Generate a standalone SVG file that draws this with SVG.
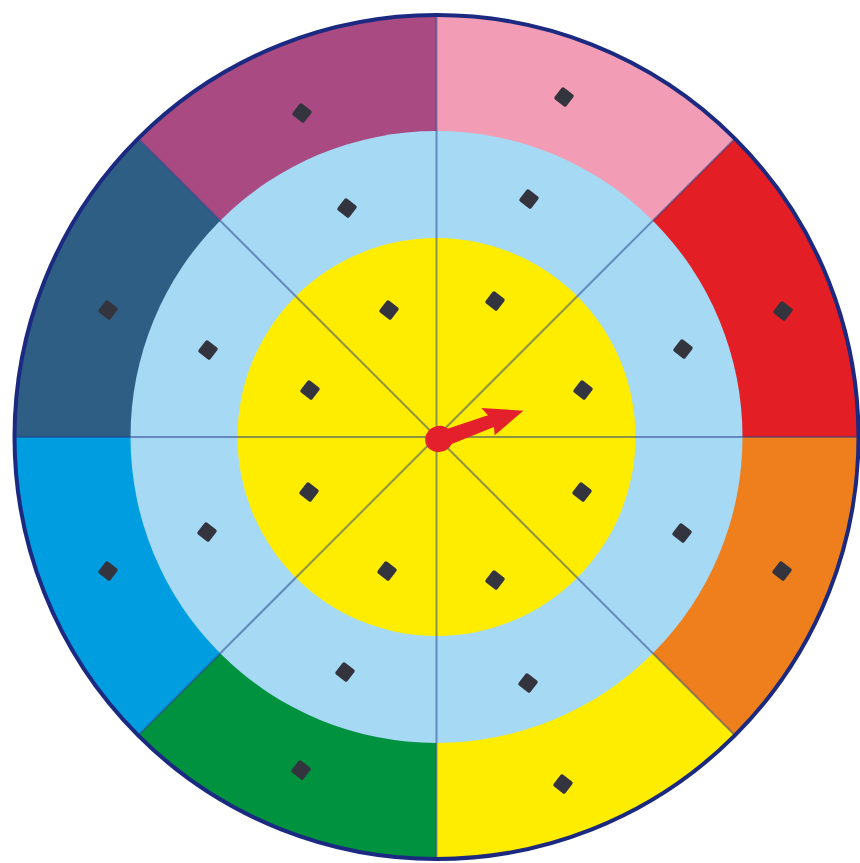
<svg xmlns="http://www.w3.org/2000/svg" xmlns:xlink="http://www.w3.org/1999/xlink" width="860" height="863" viewBox="0 0 860 863">
  <defs>
    <style>
      .div { stroke: #1f3c88; stroke-opacity: 0.5; stroke-width: 2; fill: none; }
      .mk { fill: #33343e; }
    </style>
    <rect id="m" class="mk" x="-7.5" y="-7.5" width="15" height="15" rx="2" transform="rotate(38)"/>
  </defs>
  <rect width="860" height="863" fill="#ffffff"/>
  <g id="outer-ring">
    <path d="M436.5 437 L436.5 14 A423 423 0 0 1 735.6 137.9 Z" fill="#f29db5"/>
    <path d="M436.5 437 L735.6 137.9 A423 423 0 0 1 859.5 437 Z" fill="#e31e25"/>
    <path d="M436.5 437 L859.5 437 A423 423 0 0 1 735.6 736.1 Z" fill="#ee7f1c"/>
    <path d="M436.5 437 L735.6 736.1 A423 423 0 0 1 436.5 860 Z" fill="#ffed00"/>
    <path d="M436.5 437 L436.5 860 A423 423 0 0 1 137.4 736.1 Z" fill="#00923f"/>
    <path d="M436.5 437 L137.4 736.1 A423 423 0 0 1 13.5 437 Z" fill="#009de0"/>
    <path d="M436.5 437 L13.5 437 A423 423 0 0 1 137.4 137.9 Z" fill="#2f5e84"/>
    <path d="M436.5 437 L137.4 137.9 A423 423 0 0 1 436.5 14 Z" fill="#a94b82"/>
  </g>
  <circle id="middle-ring" cx="436.5" cy="437" r="306" fill="#a6d9f4"/>
  <circle id="inner-ring" cx="436.5" cy="437" r="199" fill="#ffed00"/>
  <g id="dividers" class="div">
    <line x1="436.5" y1="15" x2="436.5" y2="859"/>
    <line x1="14.5" y1="437" x2="858.5" y2="437"/>
    <line x1="138.1" y1="138.6" x2="734.9" y2="735.4"/>
    <line x1="734.9" y1="138.6" x2="138.1" y2="735.4"/>
  </g>
  <circle id="rim" cx="436.5" cy="437" r="422" fill="none" stroke="#1b2a80" stroke-width="4"/>
  <g id="markers">
    <use xlink:href="#m" x="302" y="113"/>
    <use xlink:href="#m" x="564" y="97"/>
    <use xlink:href="#m" x="783" y="311"/>
    <use xlink:href="#m" x="782" y="571"/>
    <use xlink:href="#m" x="563" y="784"/>
    <use xlink:href="#m" x="301" y="770"/>
    <use xlink:href="#m" x="108" y="571"/>
    <use xlink:href="#m" x="108" y="310"/>
    <use xlink:href="#m" x="347" y="208"/>
    <use xlink:href="#m" x="529" y="199"/>
    <use xlink:href="#m" x="683" y="349"/>
    <use xlink:href="#m" x="682" y="533"/>
    <use xlink:href="#m" x="528" y="683"/>
    <use xlink:href="#m" x="345" y="672"/>
    <use xlink:href="#m" x="207" y="532"/>
    <use xlink:href="#m" x="208" y="350"/>
    <use xlink:href="#m" x="389" y="310"/>
    <use xlink:href="#m" x="495" y="301"/>
    <use xlink:href="#m" x="583" y="390"/>
    <use xlink:href="#m" x="582" y="492"/>
    <use xlink:href="#m" x="495" y="580"/>
    <use xlink:href="#m" x="387" y="571"/>
    <use xlink:href="#m" x="309" y="492"/>
    <use xlink:href="#m" x="310" y="390"/>
  </g>
  <g id="spinner" transform="translate(439 439) rotate(-18.5)" fill="#e3202b">
    <ellipse cx="0" cy="0" rx="14" ry="13"/>
    <path d="M5 -7 L54 -7 L50 -16 L89 0 L54 14 L56 6 L5 9 Z"/>
  </g>
</svg>
